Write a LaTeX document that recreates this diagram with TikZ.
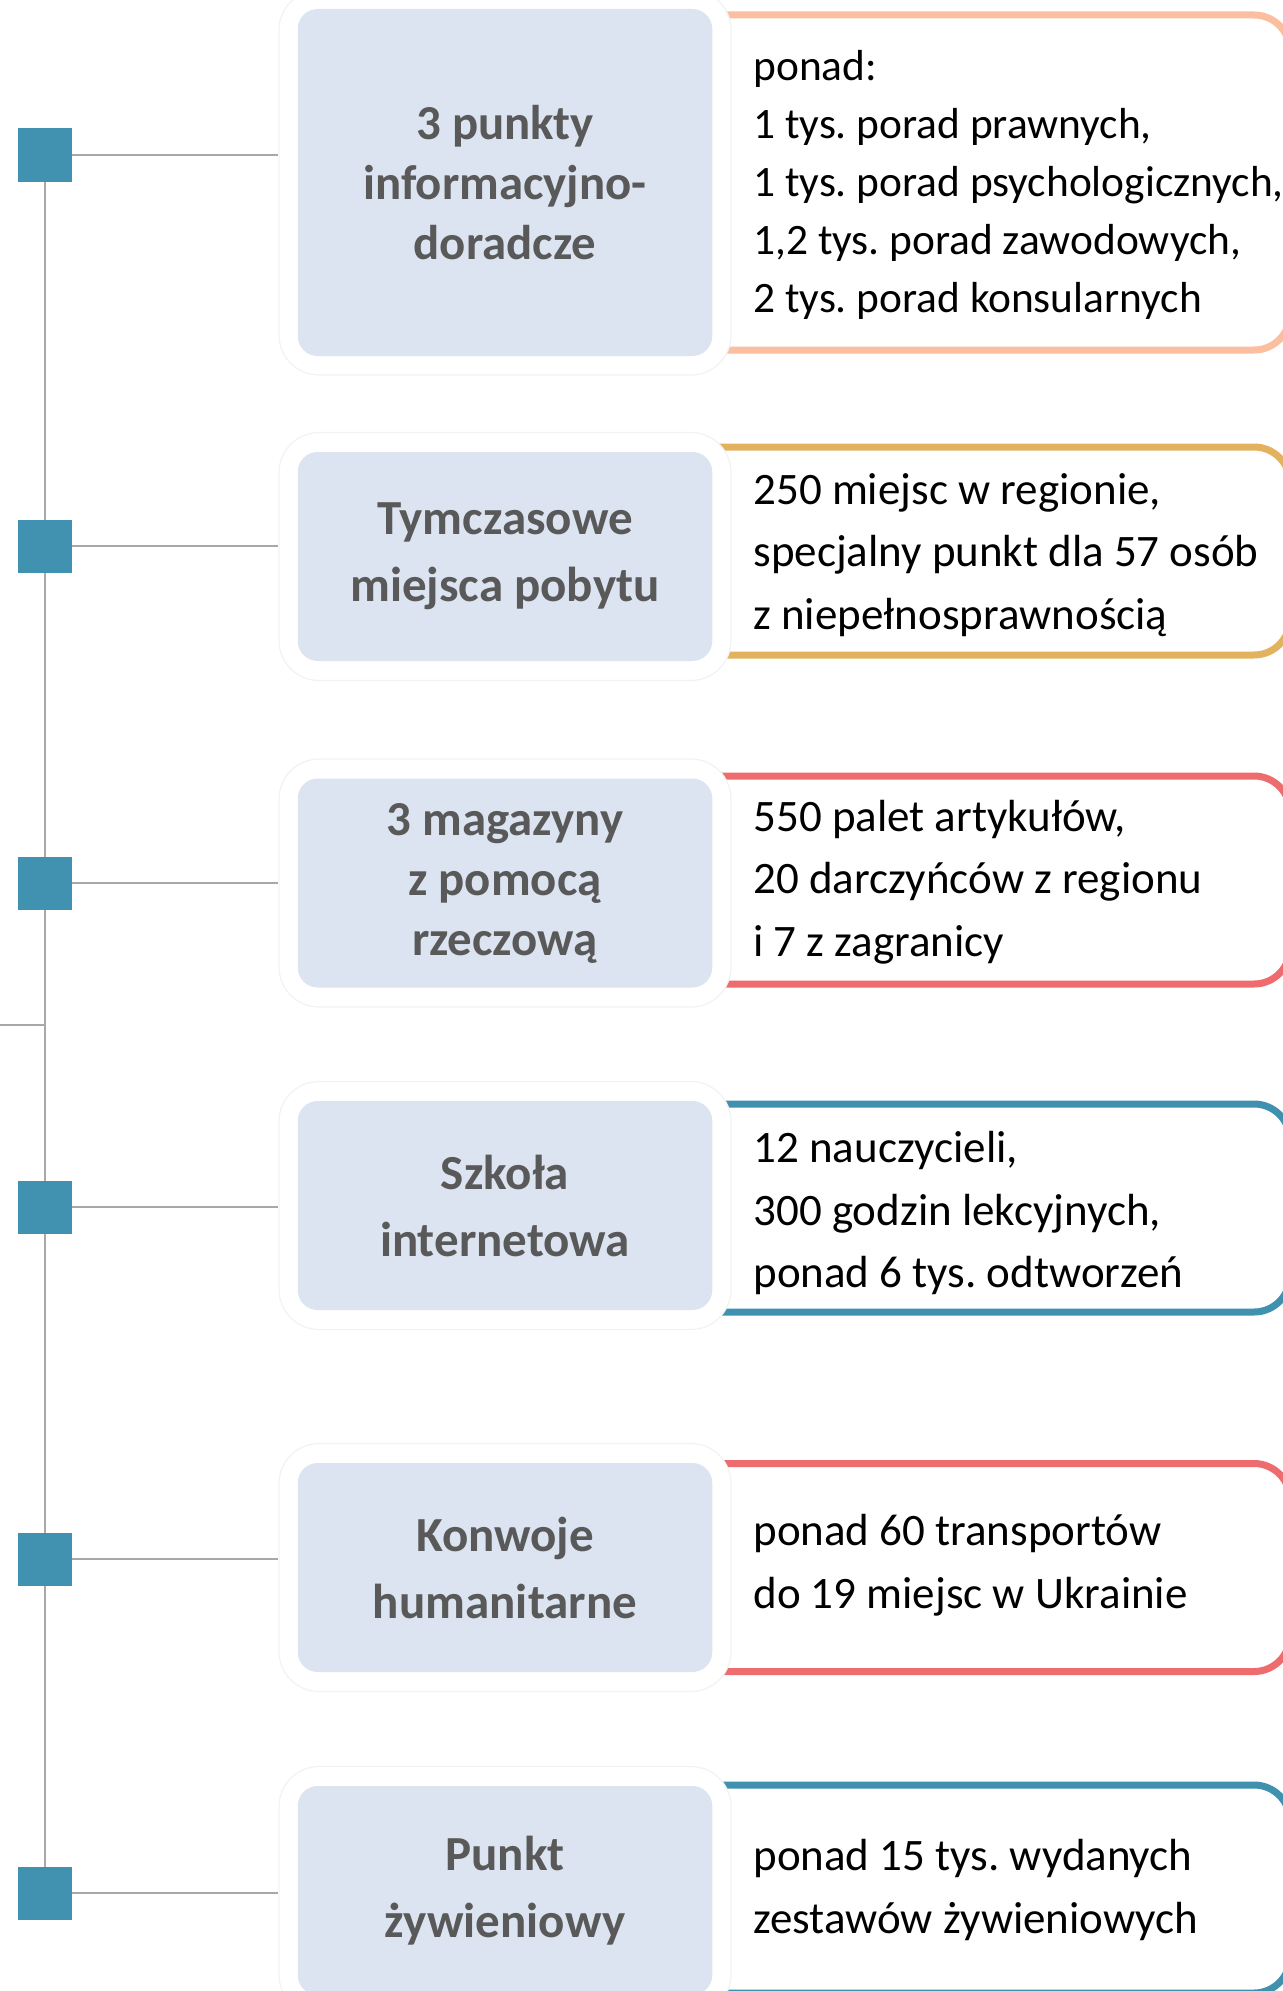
\documentclass[tikz,border=0pt]{standalone}
\usepackage{fontspec}
\setmainfont{Carlito}
\frenchspacing
\definecolor{sqteal}{HTML}{4191B1}
\definecolor{linegray}{HTML}{A8A8A8}
\definecolor{faint}{HTML}{F2F2F2}
\definecolor{boxblue}{HTML}{DBE4F0}
\definecolor{labelgray}{HTML}{595959}
\definecolor{peach}{HTML}{FBBFA0}
\definecolor{gold}{HTML}{E3B25E}
\definecolor{coral}{HTML}{EE6B6E}
\definecolor{tealline}{HTML}{4090B0}
\tikzset{
  sq/.style={fill=sqteal, minimum width=27pt, minimum height=26.5pt, inner sep=0pt},
  link/.style={draw=linegray, line width=0.9pt},
  outerbox/.style={draw=faint, line width=0.6pt, fill=white, rounded corners=20pt, minimum width=226pt, inner sep=0pt},
  bluebox/.style={fill=boxblue, rounded corners=10pt, minimum width=207.25pt, inner sep=0pt, align=center, text=labelgray},
  infobox/.style={fill=white, line width=3.5pt, rounded corners=18pt, minimum width=320pt, inner sep=0pt},
  infotext/.style={anchor=west, align=left, inner sep=0pt},
  lbl/.style={font=\fontsize{24.5pt}{33.5pt}\selectfont\bfseries},
  lblA/.style={font=\fontsize{24.4pt}{30pt}\selectfont\bfseries},
  txt/.style={font=\fontsize{22.5pt}{31.25pt}\selectfont},
  txtA/.style={font=\fontsize{21.7pt}{29pt}\selectfont},
}
\begin{document}
\begin{tikzpicture}[x=0.5pt,y=-0.5pt]
\useasboundingbox (0,0) rectangle (1283,1991);

% right info boxes
\node[infobox, draw=peach, minimum height=167.5pt] (r1) at (970,182.5) {};
\node[infobox, draw=gold, minimum height=104pt] (r2) at (970,551) {};
\node[infobox, draw=coral, minimum height=104pt] (r3) at (970,880) {};
\node[infobox, draw=tealline, minimum height=104pt] (r4) at (970,1208) {};
\node[infobox, draw=coral, minimum height=104pt] (r5) at (970,1567.5) {};
\node[infobox, draw=tealline, minimum height=104pt] (r6) at (970,1889) {};

% outer white boxes
\node[outerbox, minimum height=192.5pt] (o1) at (505,182.5) {};
\node[outerbox, minimum height=124pt] (o2) at (505,556.5) {};
\node[outerbox, minimum height=124pt] (o3) at (505,883) {};
\node[outerbox, minimum height=124pt] (o4) at (505,1205.5) {};
\node[outerbox, minimum height=124pt] (o5) at (505,1567.5) {};
\node[outerbox, minimum height=124pt] (o6) at (505,1890.5) {};

% blue label boxes
\node[bluebox, lblA, minimum height=173.5pt] (b1) at (505,182.5) {3 punkty\\informacyjno-\\doradcze};
\node[bluebox, lbl, minimum height=104.5pt] (b2) at (505,556.5) {Tymczasowe\\miejsca pobytu};
\node[bluebox, lblA, minimum height=104.5pt] (b3) at (505,883) {3 magazyny\\z pomocą\\rzeczową};
\node[bluebox, lbl, minimum height=104.5pt] (b4) at (505,1205.5) {Szkoła\\internetowa};
\node[bluebox, lbl, minimum height=104.5pt] (b5) at (505,1567.5) {Konwoje\\humanitarne};
\node[bluebox, lbl, minimum height=104.5pt] (b6) at (505,1890.5) {Punkt\\żywieniowy};

% info texts
\node[infotext, txtA] (t1) at (753,185) {ponad:\\1 tys. porad prawnych,\\1 tys. porad psychologicznych,\\1,2 tys. porad zawodowych,\\2 tys. porad konsularnych};
\node[infotext, txt] (t2) at (753,555) {250 miejsc w regionie,\\specjalny punkt dla 57 osób\\z niepełnosprawnością};
\node[infotext, txt] (t3) at (753,882) {550 palet artykułów,\\20 darczyńców z regionu\\i 7 z zagranicy};
\node[infotext, txt] (t4) at (753,1213) {12 nauczycieli,\\300 godzin lekcyjnych,\\ponad 6 tys. odtworzeń};
\node[infotext, txt] (t5) at (753,1565) {ponad 60 transportów\\do 19 miejsc w Ukrainie};
\node[infotext, txt] (t6) at (753,1890) {ponad 15 tys. wydanych\\zestawów żywieniowych};

% squares (positions)
\coordinate (c1) at (45,155);
\coordinate (c2) at (45,546);
\coordinate (c3) at (45,883);
\coordinate (c4) at (45,1207);
\coordinate (c5) at (45,1559);
\coordinate (c6) at (45,1893);
\coordinate (stub) at (0,1025);

% spine and connectors
\draw[link] (c1) -- (c6);
\draw[link] (stub) -- (stub -| c1);
\foreach \i in {1,...,6} {
  \draw[link] (c\i) -- (c\i -| o\i.west);
}
\foreach \i in {1,...,6} {
  \node[sq] (s\i) at (c\i) {};
}
\end{tikzpicture}
\end{document}
